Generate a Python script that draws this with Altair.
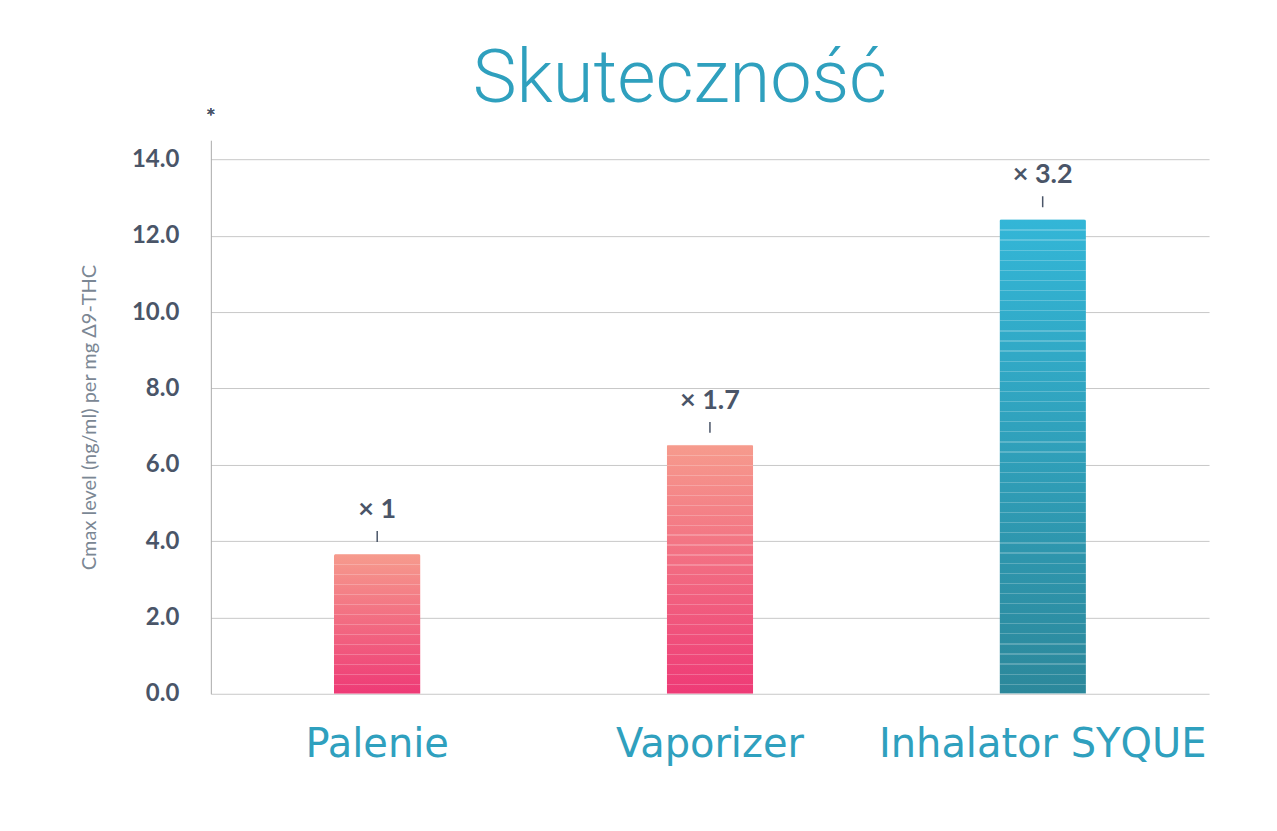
import altair as alt
import pandas as pd

categories = ["Palenie", "Vaporizer", "Inhalator SYQUE"]
values = [3.66, 6.52, 12.43]
multipliers = ["× 1", "× 1.7", "× 3.2"]
groups = ["pink", "pink", "teal"]
y_ticks = [0, 2, 4, 6, 8, 10, 12, 14]

df = pd.DataFrame({"cat": categories, "value": values, "mult": multipliers, "grp": groups})

TEAL = "#2FA0BE"
DARK = "#4A5568"
PLOT_H = 554
Y_MAX = 14.5
STRIPE_PX = 10

x_enc = alt.X("cat:N", sort=categories, title=None,
              scale=alt.Scale(paddingInner=0.74, paddingOuter=0.37),
              axis=alt.Axis(labelFontSize=40, labelFont="DejaVu Sans", labelFontWeight="normal",
                            labelColor=TEAL, labelPadding=31, ticks=False, domain=False,
                            labelAngle=0, grid=False, labelLimit=600))
y_enc = alt.Y("value:Q", scale=alt.Scale(domain=[0, Y_MAX], nice=False),
              title="Cmax level (ng/ml) per mg  Δ9-THC",
              axis=alt.Axis(values=y_ticks, format=".1f", labelFontSize=24, labelFont="Lato",
                            labelFontWeight="bold", labelColor=DARK, labelPadding=32,
                            ticks=False, domain=True, domainColor="#AAAAAA",
                            gridColor="#C8C8C8", gridWidth=1,
                            titleFontSize=20, titleFont="Lato", titleFontWeight="normal",
                            titleColor="#7B8794", titlePadding=32))

pink_grad = alt.Gradient(gradient="linear", x1=0, x2=0, y1=0, y2=1,
                         stops=[alt.GradientStop(color="#F69B8D", offset=0),
                                alt.GradientStop(color="#EE3A76", offset=1)])
teal_grad = alt.Gradient(gradient="linear", x1=0, x2=0, y1=0, y2=1,
                         stops=[alt.GradientStop(color="#33B6D7", offset=0),
                                alt.GradientStop(color="#2C889B", offset=1)])


def stripe_gradient(n):
    # thin light horizontal lines every ~STRIPE_PX pixels (style only)
    stops = []
    clear = "rgba(255,255,255,0)"
    line = "rgba(255,255,255,0.22)"
    for i in range(n):
        a = i / n
        b = (i + 0.12) / n
        stops += [alt.GradientStop(color=clear, offset=a),
                  alt.GradientStop(color=line, offset=a),
                  alt.GradientStop(color=line, offset=b),
                  alt.GradientStop(color=clear, offset=b)]
    stops.append(alt.GradientStop(color=clear, offset=1))
    return alt.Gradient(gradient="linear", x1=0, x2=0, y1=0, y2=1, stops=stops)


base = alt.Chart(df)

bars_pink = base.transform_filter(alt.datum.grp == "pink").mark_bar(
    color=pink_grad, cornerRadiusTopLeft=2, cornerRadiusTopRight=2).encode(x=x_enc, y=y_enc)
bars_teal = base.transform_filter(alt.datum.grp == "teal").mark_bar(
    color=teal_grad, cornerRadiusTopLeft=2, cornerRadiusTopRight=2).encode(x=x_enc, y=y_enc)

stripe_layers = []
for c, v in zip(categories, values):
    n = max(1, round(v / Y_MAX * PLOT_H / STRIPE_PX))
    stripe_layers.append(
        base.transform_filter(alt.datum.cat == c).mark_bar(
            color=stripe_gradient(n), cornerRadiusTopLeft=2, cornerRadiusTopRight=2
        ).encode(x=alt.X("cat:N", sort=categories), y="value:Q"))

ticks = base.mark_rule(color=DARK, strokeWidth=1.5, yOffset=-23, y2Offset=-12).encode(
    x=alt.X("cat:N", sort=categories), y="value:Q", y2="value:Q")

labels = base.mark_text(fontSize=27, font="Lato", fontWeight="bold", color=DARK,
                        dy=-44, baseline="middle").encode(
    x=alt.X("cat:N", sort=categories), y="value:Q", text="mult:N")

star = base.mark_text(text="*", fontSize=24, color=DARK, font="Lato").encode(
    x=alt.value(0), y=alt.value(-22))

chart = alt.layer(bars_pink, bars_teal, *stripe_layers, ticks, labels, star).properties(
    width=999, height=PLOT_H,
    title=alt.TitleParams("Skuteczność", fontSize=74, font="Roboto", fontWeight=300,
                          color=TEAL, anchor="middle", dx=-30, offset=-12),
    autosize=alt.AutoSizeParams(type="none"),
    padding={"left": 203, "top": 132, "right": 60, "bottom": 120},
).configure_view(stroke=None)

chart.save("out.html", embed_options={"renderer": "svg", "actions": False})
